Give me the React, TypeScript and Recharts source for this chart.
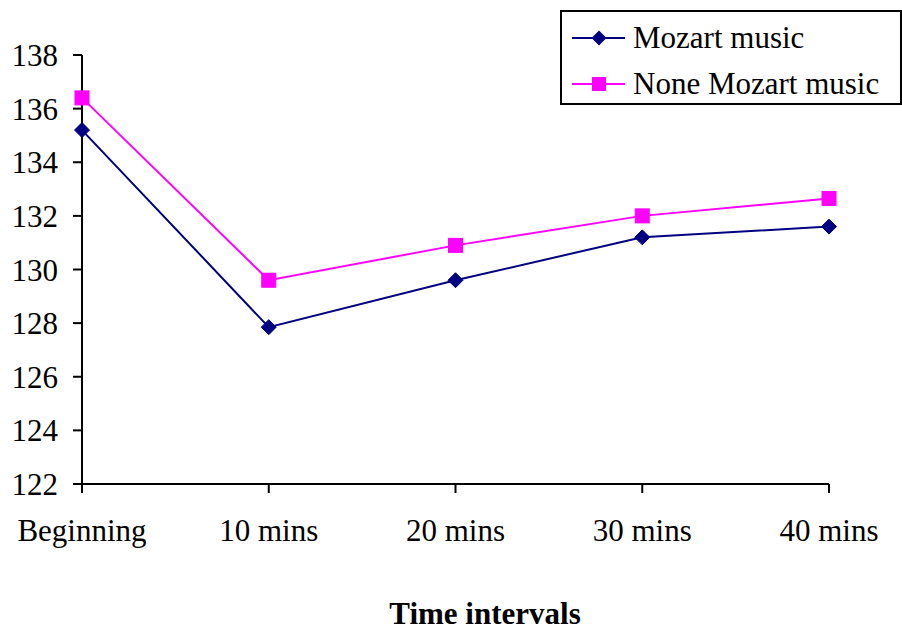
import React from 'react';
import { LineChart, Line, XAxis, YAxis } from 'recharts';

const categories = ['Beginning', '10 mins', '20 mins', '30 mins', '40 mins'];
const mozart = [135.2, 127.85, 129.6, 131.2, 131.6];
const noneMozart = [136.4, 129.6, 130.9, 132.0, 132.65];
const yTicks = [122, 124, 126, 128, 130, 132, 134, 136, 138];
const seriesNames = ['Mozart music', 'None Mozart music'];

const data = categories.map((c, i) => ({ name: c, mozart: mozart[i], none: noneMozart[i] }));

const FONT = '"Liberation Serif", "Times New Roman", serif';
const NAVY = '#000080';
const MAGENTA = '#FF00FF';
const FS = 31;

const Diamond = (props: any) => {
  const { cx, cy } = props;
  if (cx == null || cy == null) return null;
  const r = 7.5;
  return <polygon points={`${cx},${cy - r} ${cx + r},${cy} ${cx},${cy + r} ${cx - r},${cy}`} fill={NAVY} stroke={NAVY} />;
};

const Square = (props: any) => {
  const { cx, cy } = props;
  if (cx == null || cy == null) return null;
  const s = 14;
  return <rect x={cx - s / 2} y={cy - s / 2} width={s} height={s} fill={MAGENTA} stroke={MAGENTA} />;
};

const LegendBox = () => (
  <div
    style={{
      position: 'absolute',
      left: 560,
      top: 10,
      width: 342,
      height: 95,
      boxSizing: 'border-box',
      border: '2px solid #000',
      background: '#fff',
      fontFamily: FONT,
      fontSize: FS,
      color: '#000',
    }}
  >
    {[
      { label: seriesNames[0], color: NAVY, shape: 'diamond', top: 26 },
      { label: seriesNames[1], color: MAGENTA, shape: 'square', top: 72 },
    ].map((it) => (
      <div key={it.label} style={{ position: 'absolute', left: 8, top: it.top - 20, height: 40, display: 'flex', alignItems: 'center' }}>
        <svg width={56} height={20} style={{ display: 'block' }}>
          <line x1={2} y1={10} x2={55} y2={10} stroke={it.color} strokeWidth={2} />
          {it.shape === 'diamond' ? (
            <polygon points="29,2.5 36.5,10 29,17.5 21.5,10" fill={it.color} />
          ) : (
            <rect x={22} y={3} width={14} height={14} fill={it.color} />
          )}
        </svg>
        <span style={{ marginLeft: 7, lineHeight: '40px', whiteSpace: 'nowrap' }}>{it.label}</span>
      </div>
    ))}
  </div>
);

const AxisTitle = (props: any) => {
  const vb = props.viewBox || {};
  const x = (vb.x ?? 82) + (vb.width ?? 747) / 2 + 29.5;
  return (
    <text x={x} y={624} textAnchor="middle" fontFamily={FONT} fontSize={FS} fontWeight="bold" fill="#000">
      Time intervals
    </text>
  );
};

export default function App() {
  return (
    <div style={{ position: 'absolute', left: 0, top: 0, width: 902, height: 631, background: '#fff' }}>
      <LineChart width={902} height={631} data={data} margin={{ top: 55, right: 73, left: 0, bottom: 0 }}>
        <XAxis
          dataKey="name"
          height={147}
          axisLine={{ stroke: '#000', strokeWidth: 2 }}
          tickLine={{ stroke: '#000', strokeWidth: 2 }}
          tickSize={9}
          tickMargin={26}
          tick={{ fill: '#000', fontFamily: FONT, fontSize: FS }}
          interval={0}
          label={<AxisTitle />}
        />
        <YAxis
          width={82}
          domain={[122, 138]}
          ticks={yTicks}
          interval={0}
          axisLine={{ stroke: '#000', strokeWidth: 2 }}
          tickLine={{ stroke: '#000', strokeWidth: 2 }}
          tickSize={9}
          tickMargin={15}
          tick={{ fill: '#000', fontFamily: FONT, fontSize: FS }}
          allowDataOverflow
        />
        <Line
          dataKey="mozart"
          name={seriesNames[0]}
          stroke={NAVY}
          strokeWidth={2}
          dot={<Diamond />}
          activeDot={false}
          isAnimationActive={false}
        />
        <Line
          dataKey="none"
          name={seriesNames[1]}
          stroke={MAGENTA}
          strokeWidth={2}
          dot={<Square />}
          activeDot={false}
          isAnimationActive={false}
        />
      </LineChart>
      <LegendBox />
    </div>
  );
}
